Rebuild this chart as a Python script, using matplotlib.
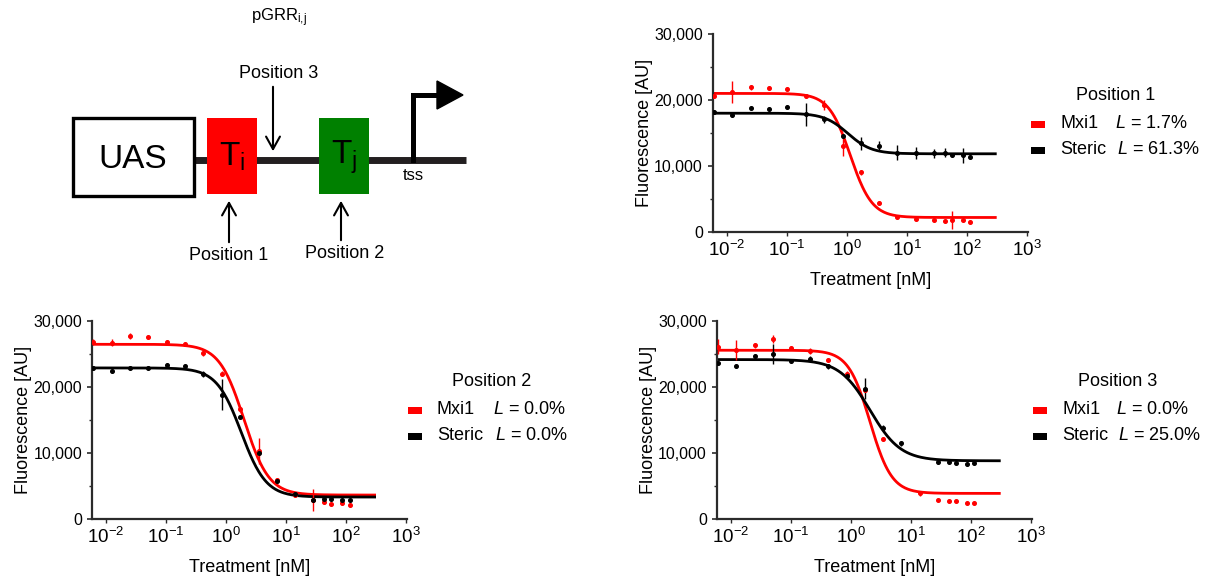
import numpy as np
import matplotlib
matplotlib.use("Agg")
import matplotlib.pyplot as plt
from matplotlib.patches import Rectangle, Polygon
from matplotlib.ticker import FuncFormatter, MultipleLocator, FixedLocator, NullLocator

plt.rcParams['font.family'] = ['Liberation Sans', 'DejaVu Sans']
plt.rcParams['mathtext.fontset'] = 'custom'
plt.rcParams['mathtext.rm'] = 'Liberation Sans'
plt.rcParams['mathtext.it'] = 'Liberation Sans:italic'

# dose series [nM], same for all panels
dose = [0.0061, 0.0125, 0.025, 0.051, 0.103, 0.21, 0.42, 0.86, 1.73,
        3.5, 7.0, 14.2, 28.5, 43, 57, 86, 115]

# Position 1
p1_mxi1 = [20600, 21260, 21900, 21800, 21650, 20560, 19240, 13030, 9040,
           4440, 2320, 1970, 1820, 1670, 1820, 1820, 1560]
p1_mxi1_err = [300, 1650, 400, 350, 350, 300, 800, 1500, 400,
               250, 250, 200, 200, 200, 1350, 200, 200]
p1_steric = [18230, 17730, 18740, 18640, 18890, 17830, 17080, 14540, 13440,
             13030, 12020, 11920, 11920, 12020, 11670, 11620, 11410]
p1_steric_err = [300, 250, 300, 300, 300, 1700, 500, 300, 1000,
                 750, 1100, 900, 700, 700, 300, 1100, 400]

# Position 2
p2_mxi1 = [26820, 26730, 27690, 27580, 26880, 26470, 25220, 22040, 16600,
           10330, 5900, 3630, 2870, 2520, 2220, 2370, 2170]
p2_mxi1_err = [400, 500, 450, 300, 300, 250, 450, 350, 350,
               2000, 250, 250, 1600, 250, 250, 250, 250]
p2_steric = [22890, 22390, 22890, 22950, 23400, 23150, 21940, 18860, 15480,
             10000, 5700, 3800, 2900, 2980, 3020, 2830, 2830]
p2_steric_err = [300, 300, 200, 200, 200, 200, 450, 2400, 300,
                 300, 250, 250, 250, 250, 250, 250, 250]

# Position 3
p3_mxi1 = [26070, 25570, 26320, 27230, 25970, 25460, 24160, 22040, 19500,
           12100, np.nan, 3880, 2870, 2720, 2720, 2470, 2470]
p3_mxi1_err = [1130, 1500, 400, 600, 300, 400, 300, 400, 300,
               300, 0, 400, 150, 150, 150, 150, 150]
p3_steric = [23650, 23200, 24710, 25000, 23950, 24310, 23150, 21630, 19770,
             13810, 11450, np.nan, 8670, 8670, 8520, 8320, 8520]
p3_steric_err = [300, 300, 300, 1500, 300, 400, 400, 300, 1600,
                 500, 350, 0, 400, 250, 250, 300, 250]

# fitted dose-response parameters: (top, bottom, EC50, hill)
p1_fit = [(21000, 2200, 1.15, 2.4), (18000, 11850, 1.05, 2.2)]
p2_fit = [(26470, 3630, 2.0, 2.1), (22890, 3330, 1.8, 2.1)]
p3_fit = [(25570, 3880, 2.1, 2.4), (24160, 8820, 2.1, 1.7)]

series_names = ["Mxi1", "Steric"]
leakiness = {"Position 1": ["1.7%", "61.3%"],
             "Position 2": ["0.0%", "0.0%"],
             "Position 3": ["0.0%", "25.0%"]}
colors = ["#ff0000", "#000000"]

W, H = 1217, 578
fig = plt.figure(figsize=(W / 100, H / 100), dpi=100)

# overlay in pixel coordinates for the construct diagram and legends
ov = fig.add_axes([0, 0, 1, 1])
ov.set_xlim(0, W)
ov.set_ylim(H, 0)
ov.axis('off')

# --- construct diagram ---
ov.plot([195, 466], [160, 160], color='#231f20', lw=5, solid_capstyle='butt', zorder=1)
ov.add_patch(Rectangle((73, 118), 121, 78, facecolor='white', edgecolor='black', lw=2.4, zorder=2))
ov.text(133, 159, "UAS", fontsize=24, ha='center', va='center', zorder=3)
ov.add_patch(Rectangle((207, 118), 50, 76, facecolor='#ff0000', edgecolor='none', zorder=2))
ov.add_patch(Rectangle((319, 118), 50, 76, facecolor='#008000', edgecolor='none', zorder=2))
ov.text(232, 157, r"T$_\mathregular{i}$", fontsize=24, ha='center', va='center', zorder=3)
ov.text(344, 157, r"T$_\mathregular{j}$", fontsize=24, ha='center', va='center', zorder=3)
ov.plot([413, 413, 440], [160, 95, 95], color='black', lw=3.6, solid_joinstyle='miter', zorder=2)
ov.add_patch(Polygon([[437, 81], [463, 95], [437, 109]], closed=True, color='black', zorder=2))
ov.text(413, 175, "tss", fontsize=12, ha='center', va='center')
ov.text(279, 18, r"pGRR$_\mathregular{i{,}j}$", fontsize=12, ha='center', va='center')

arrow_kw = dict(arrowstyle='->,head_length=0.9,head_width=0.5', color='black', lw=1.5)
ov.annotate("", xy=(273, 154), xytext=(273, 84), arrowprops=arrow_kw)
ov.text(279, 73, "Position 3", fontsize=13, ha='center', va='center')
ov.annotate("", xy=(229, 198), xytext=(229, 245), arrowprops=arrow_kw)
ov.text(229, 256, "Position 1", fontsize=13, ha='center', va='center')
ov.annotate("", xy=(341, 198), xytext=(341, 243), arrowprops=arrow_kw)
ov.text(345, 254, "Position 2", fontsize=13, ha='center', va='center')


def hill(x, top, bottom, ec50, h):
    return bottom + (top - bottom) / (1 + (x / ec50) ** h)


def panel(rect, ys, errs, fits):
    ax = fig.add_axes(rect)
    ax.patch.set_alpha(0)
    xs = np.logspace(np.log10(dose[0]), np.log10(300), 300)
    for y, e, f, c in zip(ys, errs, fits, colors):
        ax.errorbar(dose, y, yerr=e, fmt='o', ms=2.6, color=c, ecolor=c,
                    elinewidth=1.0, capsize=0, zorder=3)
        ax.plot(xs, hill(xs, *f), color=c, lw=2, zorder=2)
    ax.set_xscale('log')
    ax.set_xlim(10 ** -2.233, 10 ** 3.022)
    ax.set_ylim(0, 30000)
    ax.xaxis.set_major_locator(FixedLocator([1e-2, 1e-1, 1e0, 1e1, 1e2, 1e3]))
    ax.xaxis.set_minor_locator(NullLocator())
    ax.xaxis.set_major_formatter(FuncFormatter(
        lambda v, p: r"$\mathregular{10^{%d}}$" % round(np.log10(v))))
    ax.yaxis.set_major_locator(MultipleLocator(10000))
    ax.yaxis.set_minor_locator(MultipleLocator(5000))
    ax.yaxis.set_major_formatter(FuncFormatter(lambda v, p: f"{int(v):,}"))
    for s in ['top', 'right']:
        ax.spines[s].set_visible(False)
    for s in ['left', 'bottom']:
        ax.spines[s].set_linewidth(1.6)
        ax.spines[s].set_color('#2b2b2b')
    ax.tick_params(axis='y', which='major', length=3.5, width=1.2, labelsize=11.5, colors='#2b2b2b', labelcolor='black')
    ax.tick_params(axis='y', which='minor', length=2.5, width=1.0, colors='#2b2b2b')
    ax.tick_params(axis='x', which='major', length=3, width=1.0, labelsize=13.5, pad=3, colors='#2b2b2b', labelcolor='black')
    ax.set_xlabel("Treatment [nM]", fontsize=13, labelpad=8)
    ax.set_ylabel("Fluorescence [AU]", fontsize=13, labelpad=1)
    return ax


def legend_block(title, tx, ty, px, lx, vals):
    ov.text(tx, ty, title, fontsize=13, ha='center', va='center')
    for k, (name, c, v) in enumerate(zip(series_names, colors, vals)):
        yy = ty + 29 + 26 * k
        ov.add_patch(Rectangle((px, yy - 3.5), 14, 7, facecolor=c, edgecolor='none'))
        ov.text(px + 29, yy, name, fontsize=13, ha='left', va='center')
        ov.text(lx + (2 if k else 0), yy, r"$L$ = " + v, fontsize=13, ha='left', va='center')


top_b = 1 - 232 / H
bot_b = 1 - 519 / H
h_ax = 198 / H
w_ax = 315.3 / W

panel([712.7 / W, top_b, w_ax, h_ax], [p1_mxi1, p1_steric], [p1_mxi1_err, p1_steric_err], p1_fit)
panel([92 / W, bot_b, w_ax, h_ax], [p2_mxi1, p2_steric], [p2_mxi1_err, p2_steric_err], p2_fit)
panel([716.7 / W, bot_b, w_ax, h_ax], [p3_mxi1, p3_steric], [p3_mxi1_err, p3_steric_err], p3_fit)

legend_block("Position 1", 1116, 95, 1031, 1115, leakiness["Position 1"])
legend_block("Position 2", 492, 381, 408, 493, leakiness["Position 2"])
legend_block("Position 3", 1118, 381, 1033, 1116, leakiness["Position 3"])

fig.savefig("out.png", dpi=100)
